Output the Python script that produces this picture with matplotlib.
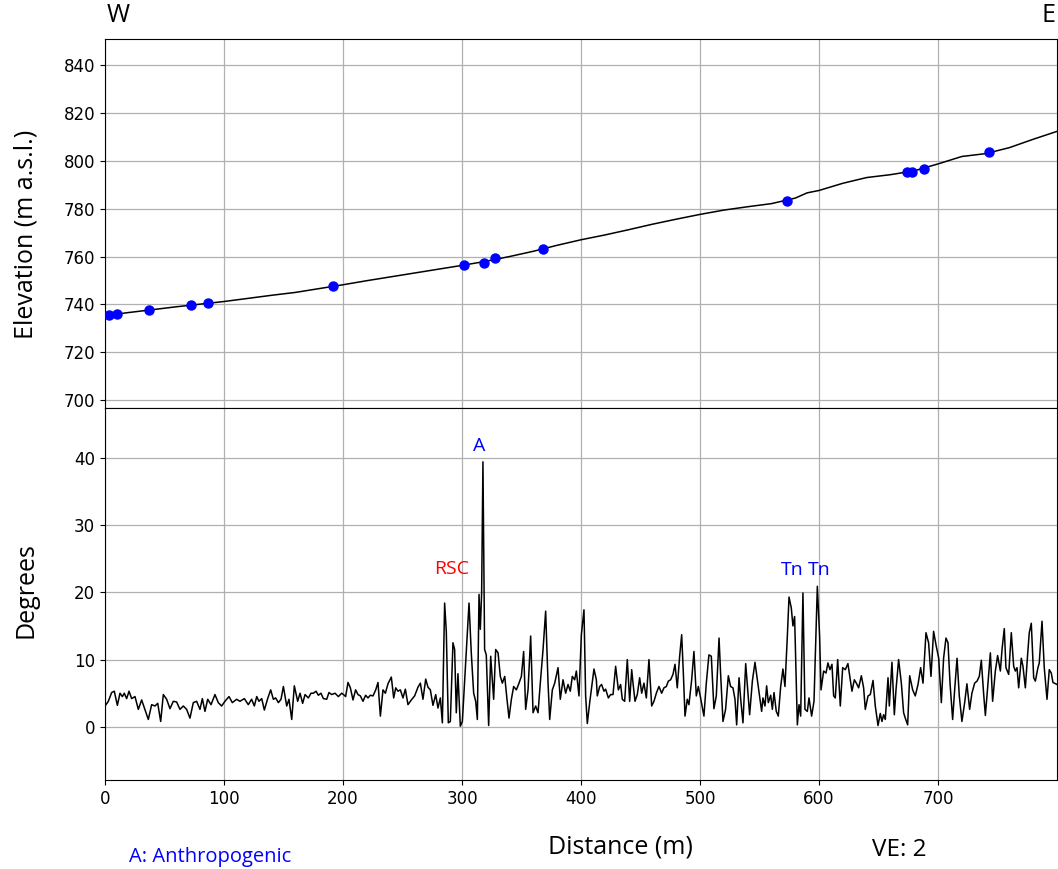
import matplotlib
matplotlib.use("Agg")
import matplotlib.pyplot as plt

# Elevation profile along the transect (distance in m, elevation in m a.s.l.)
profile_dist = [0, 20, 40, 60, 80, 100, 120, 140, 160, 180, 200, 220, 240, 260,
                280, 300, 320, 340, 360, 380, 400, 420, 440, 460, 480, 500, 520,
                540, 560, 580, 590, 600, 620, 640, 660, 680, 700, 720, 740, 760,
                780, 800]
profile_elev = [735.3, 736.6, 737.8, 739.0, 740.1, 741.2, 742.5, 743.8, 745.0,
                746.6, 748.2, 749.9, 751.5, 753.1, 754.7, 756.3, 758.0, 760.0,
                762.2, 764.7, 767.0, 769.0, 771.2, 773.5, 775.6, 777.6, 779.4,
                780.8, 782.1, 784.4, 786.6, 787.6, 790.6, 793.0, 794.2, 795.8,
                798.7, 801.8, 803.0, 805.5, 809.0, 812.3]

# Sampled sites along the profile
site_dist = [3.4, 10.1, 37.0, 72.3, 86.6, 191.6, 301.7, 318.5, 327.7, 368.0,
             573.0, 674.0, 678.0, 688.0, 743.0]
site_elev = [735.5, 735.9, 737.6, 739.7, 740.5, 747.6, 756.4, 757.2, 759.3,
             763.1, 783.2, 795.3, 795.3, 796.5, 803.6]

# Slope along the transect (distance in m, slope in degrees)
slope_dist = [
    0.0, 2.8, 5.6, 7.8, 10.4, 12.6, 14.6, 16.2, 18.2, 20.2, 22.4, 25.2, 28.0,
    30.8, 33.1, 36.4, 39.2, 42.0, 44.3, 46.8, 49.0, 51.8, 54.6, 57.4, 60.2,
    63.0, 65.8, 68.6, 71.4, 74.2, 77.0, 79.8, 81.8, 84.0, 86.3, 89.1, 92.4,
    95.2, 98.0, 100.8, 104.2, 107.0, 110.6, 113.4, 117.1, 120.4, 123.2, 125.5,
    127.5, 129.4, 131.7, 133.9, 136.7, 139.2, 141.5, 143.4, 145.7, 147.9,
    149.9, 152.7, 154.6, 156.9, 159.1, 161.9, 163.9, 166.1, 168.1, 170.9,
    173.1, 175.1, 177.3, 179.3, 181.5, 183.5, 186.3, 188.2, 190.5, 193.3,
    196.1, 198.9, 201.1,
    202.2, 204.2, 206.2, 208.4, 210.6, 212.6, 214.6, 216.8, 219.0, 221.0,
    223.0, 225.2, 227.5, 229.4, 231.4, 233.6, 235.6, 237.8, 240.6, 242.6,
    244.3, 246.2, 248.2, 250.4, 252.4, 254.6, 257.4, 260.2, 263.0, 265.0,
    267.2, 269.5, 271.4, 273.4, 275.6, 277.9, 279.8, 281.8, 283.5, 285.4,
    286.8, 288.5, 290.2, 292.4, 293.8, 295.2, 296.6, 298.6, 300.3, 303.1,
    305.9, 307.8, 309.8, 311.5, 312.9, 314.3, 315.4, 316.5, 317.6, 319.0,
    320.4, 322.4, 324.1, 325.5, 326.6, 328.3, 330.3, 332.2, 333.9, 335.9,
    337.8, 339.5, 341.5, 343.4, 345.7, 347.9, 349.9, 351.8, 353.5, 355.5,
    357.7, 359.7, 361.9, 363.9, 365.8, 368.1, 370.3, 372.3, 373.7, 375.9,
    377.9, 380.7, 382.6, 384.9, 387.1, 389.1, 391.0, 392.7, 394.7, 396.1,
    398.3, 400.3,
    402.5, 403.9, 405.3, 407.3, 410.9, 412.9, 413.7, 415.7, 417.3, 419.3,
    420.7, 423.0, 424.9, 426.9, 429.1, 431.4, 433.3, 434.7, 436.7, 438.9,
    440.9, 442.6, 443.7, 445.4, 447.3, 449.3, 451.0, 452.9, 454.9, 457.1,
    459.4, 461.3, 463.3, 465.5, 467.8, 469.7, 471.7, 473.4, 475.3, 477.3,
    479.0, 480.9, 482.9, 484.6, 486.0, 487.4, 489.3, 490.7, 493.0, 494.9,
    496.9, 498.6, 500.5, 503.3, 505.3, 507.5, 509.5, 511.7, 513.7, 516.0,
    517.3, 519.3, 521.5, 523.8, 525.7, 527.7, 529.4, 530.8, 532.8, 534.2,
    536.1, 538.4, 540.6, 541.7, 544.0, 546.2, 548.2, 550.1, 551.8, 552.9,
    554.6, 556.0, 557.4, 559.4, 560.8, 562.2, 564.1, 565.8, 567.8, 569.7,
    571.4, 573.4, 574.8, 576.7, 578.1, 579.5, 581.8, 583.2, 584.6, 586.5,
    588.2, 590.2, 591.6, 593.8, 595.8, 598.6, 600.5, 601.7,
    603.9, 605.9, 607.5, 609.2, 610.9, 612.3, 613.7, 615.7, 617.9, 619.9,
    622.1, 624.3, 626.3, 627.7, 629.7, 631.4, 633.3, 635.6, 637.5, 638.9,
    641.2, 643.1, 645.4, 647.3, 649.6, 651.5, 652.9, 654.3, 655.7, 658.0,
    659.1, 661.3, 663.3, 664.7, 666.9, 669.2, 671.1, 672.5, 674.5, 676.2,
    678.7, 680.9, 683.2, 685.4, 687.4, 689.9, 692.1, 694.1, 696.3, 698.3,
    700.6, 702.8, 704.7, 706.7, 708.4, 710.1, 712.3, 714.0, 716.0, 717.9,
    720.1, 722.4, 724.3, 726.6, 728.5, 730.8, 732.8, 734.7, 736.4, 738.4,
    739.8, 741.7, 744.0, 745.9, 748.2, 750.1, 752.4, 753.8, 755.7, 757.1,
    759.4, 761.6, 763.6, 765.0, 766.4, 767.8, 770.0, 771.4, 773.4, 775.3,
    776.7, 778.4, 780.4, 781.8, 784.0, 785.1, 787.4, 789.3, 791.6, 793.5,
    795.2, 796.6, 800.0]
slope_deg = [
    3.1, 3.8, 5.1, 5.3, 3.2, 5.0, 4.5, 5.0, 4.2, 5.3, 4.2, 4.5, 2.6,
    4.0, 2.8, 1.1, 3.3, 3.1, 3.5, 0.8, 4.8, 4.1, 2.7, 3.8, 3.7,
    2.6, 3.1, 2.6, 1.3, 3.6, 3.8, 2.6, 4.2, 2.3, 4.1, 3.3, 4.8,
    3.6, 3.1, 3.8, 4.5, 3.6, 4.1, 3.8, 4.2, 3.3, 4.1, 3.1,
    4.5, 3.8, 4.2, 2.5, 4.2, 5.5, 4.1, 4.3, 3.6, 4.1,
    6.0, 3.1, 4.1, 1.1, 6.1, 3.8, 5.0, 3.5, 4.8, 4.3,
    5.0, 5.0, 5.3, 4.7, 5.0, 4.2, 4.1, 5.1, 4.8, 5.0,
    4.5, 5.0, 4.7,
    4.5, 6.6, 5.8, 4.0, 5.5, 4.8, 4.6, 3.8, 4.7, 4.3,
    4.7, 4.6, 5.5, 6.6, 1.6, 5.5, 5.0, 6.4, 7.4, 4.3,
    5.8, 5.3, 5.5, 4.3, 5.6, 3.3, 4.0, 4.6, 5.9, 6.5,
    4.1, 7.1, 5.9, 5.5, 3.2, 4.8, 2.8, 4.3, 0.6, 18.4,
    14.2, 0.6, 0.8, 12.5, 11.5, 2.1, 7.9, 0.1, 0.8, 9.5,
    18.4, 11.0, 5.0, 3.8, 1.1, 19.7, 14.5, 19.9, 39.4, 11.5,
    10.7, 0.2, 10.5, 7.0, 4.1, 11.5, 11.0, 7.5, 6.5, 7.5,
    4.1, 1.3, 4.1, 6.0, 5.5, 6.5, 7.5, 11.2, 2.6, 5.5,
    13.5, 2.1, 3.1, 2.1, 6.5, 11.5, 17.2, 6.5, 1.1, 5.5,
    6.5, 8.8, 4.1, 7.0, 5.0, 6.3, 5.3, 7.5, 7.0, 8.3,
    4.6, 13.7,
    17.4, 4.6, 0.5, 3.6, 8.6, 7.0, 4.6, 6.0, 6.3, 5.3,
    5.6, 4.3, 4.8, 4.8, 9.0, 5.5, 6.3, 4.1, 3.8, 10.0,
    3.8, 8.5, 6.5, 3.8, 4.8, 7.3, 5.0, 6.5, 4.3, 10.0,
    3.1, 3.8, 5.0, 6.0, 5.0, 5.8, 6.0, 6.8, 7.0, 7.8,
    9.3, 5.8, 10.5, 13.7, 8.0, 1.6, 4.1, 3.3, 7.0, 11.2,
    4.6, 6.0, 4.3, 1.6, 6.5, 10.7, 10.5, 2.7, 4.6, 13.2,
    8.0, 0.8, 2.6, 7.6, 6.0, 5.8, 4.1, 0.3, 7.3, 4.1,
    0.6, 9.4, 4.3, 1.8, 6.8, 9.6, 7.0, 4.6, 2.3, 4.3,
    3.1, 6.1, 3.6, 4.7, 2.6, 5.1, 2.3, 1.6, 6.0, 8.6,
    6.0, 13.5, 19.3, 17.7, 15.0, 16.4, 0.3, 3.3, 1.6, 19.9,
    2.6, 2.3, 4.3, 1.6, 3.8, 20.9, 13.5, 5.5,
    8.3, 8.0, 9.5, 8.5, 9.3, 4.6, 4.3, 10.0, 3.1, 8.8,
    8.5, 9.4, 7.0, 5.3, 7.0, 6.5, 5.8, 7.6, 5.8, 2.6,
    4.6, 4.8, 6.9, 3.1, 0.2, 2.0, 0.8, 1.8, 1.1, 7.3,
    3.1, 9.6, 1.8, 5.5, 10.0, 6.5, 2.1, 1.3, 0.3, 7.6,
    5.5, 4.6, 6.3, 8.8, 6.5, 14.0, 12.5, 7.5, 14.2, 12.2,
    10.2, 3.6, 10.2, 13.2, 12.5, 6.5, 1.1, 5.5, 10.2, 4.6,
    0.8, 3.6, 6.4, 2.6, 5.0, 6.5, 6.8, 7.5, 9.9, 4.8,
    1.7, 5.8, 11.0, 3.8, 8.3, 10.6, 8.3, 11.5, 14.6, 8.8,
    7.8, 14.0, 9.0, 8.3, 8.8, 5.8, 10.2, 9.0, 5.8, 10.7,
    14.0, 15.4, 7.3, 6.8, 8.8, 9.5, 15.7, 8.8, 4.1, 8.5,
    8.0, 6.6, 6.3]

# Landform annotations: (label, distance, slope, colour)
annotations = [("RSC", 291.5, 23.5, "red"),
               ("A", 314.5, 41.8, "blue"),
               ("Tn", 577.5, 23.3, "blue"),
               ("Tn", 600.5, 23.3, "blue")]

x_ticks = [0, 100, 200, 300, 400, 500, 600, 700]
elev_ticks = [700, 720, 740, 760, 780, 800, 820, 840]
slope_ticks = [0, 10, 20, 30, 40]

label_font = "Open Sans"
W, H = 1058, 869
fig = plt.figure(figsize=(W / 100, H / 100), dpi=100)
ax_top = fig.add_axes([105 / W, 1 - 408 / H, 952 / W, 369 / H])
ax_bot = fig.add_axes([105 / W, 1 - 780 / H, 952 / W, 372 / H], sharex=ax_top)

grid_kw = dict(color="#b0b0b0", linewidth=0.9)

# Elevation panel
ax_top.plot(profile_dist, profile_elev, color="black", linewidth=1.1, zorder=3)
ax_top.plot(site_dist, site_elev, "o", color="blue", markersize=6.5, zorder=4)
ax_top.set_ylim(696.7, 850.9)
ax_top.set_yticks(elev_ticks)
ax_top.grid(True, **grid_kw)
ax_top.set_axisbelow(True)
ax_top.tick_params(axis="x", length=0, labelbottom=False)
ax_top.tick_params(axis="y", labelsize=12)
ax_top.set_ylabel("Elevation (m a.s.l.)", fontsize=18, family=label_font)
ax_top.yaxis.set_label_coords(-0.07, 0.47)
ax_top.text(0.002, 1.03, "W", transform=ax_top.transAxes, ha="left",
            va="bottom", fontsize=18, family=label_font)
ax_top.text(0.998, 1.03, "E", transform=ax_top.transAxes, ha="right",
            va="bottom", fontsize=18, family=label_font)

# Slope panel
ax_bot.plot(slope_dist, slope_deg, color="black", linewidth=1.1, zorder=3)
ax_bot.set_xlim(0, 800)
ax_bot.set_xticks(x_ticks)
ax_bot.set_ylim(-7.9, 47.4)
ax_bot.set_yticks(slope_ticks)
ax_bot.grid(True, **grid_kw)
ax_bot.set_axisbelow(True)
ax_bot.tick_params(labelsize=12)
ax_bot.set_ylabel("Degrees", fontsize=18, family=label_font)
ax_bot.yaxis.set_label_coords(-0.07, 0.51)

for text, x, y, colour in annotations:
    ax_bot.text(x, y, text, color=colour, fontsize=14, family=label_font,
                ha="center", va="center", zorder=5)

fig.text(620 / W, 1 - 847 / H, "Distance (m)", fontsize=18, family=label_font,
         ha="center", va="center")
fig.text(899 / W, 1 - 850 / H, "VE: 2", fontsize=17.5, family=label_font,
         ha="center", va="center")
fig.text(129 / W, 1 - 857 / H, "A: Anthropogenic", fontsize=14.5, color="blue",
         family=label_font, ha="left", va="center")

fig.savefig("out.png", dpi=100)
